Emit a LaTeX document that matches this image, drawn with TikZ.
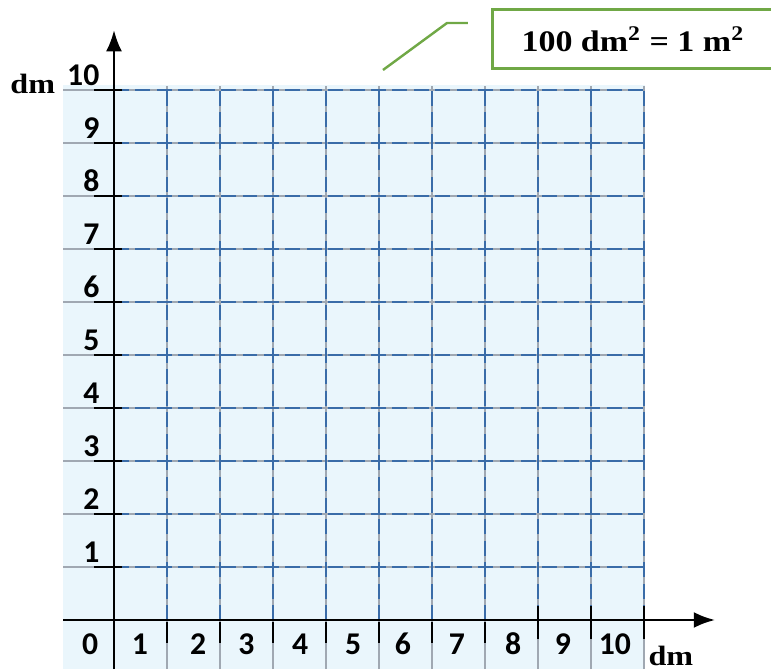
\documentclass[tikz,border=0pt]{standalone}
\usepackage{fontspec}
\setmainfont{Liberation Serif}
\newfontfamily\numfont{Carlito}
\usetikzlibrary{arrows.meta}
\definecolor{paperblue}{RGB}{234,246,252}
\definecolor{gridgray}{RGB}{160,168,178}
\definecolor{dashblue}{RGB}{58,108,168}
\definecolor{calloutgreen}{RGB}{112,168,70}
\tikzset{
	num/.style={font=\numfont\bfseries\fontsize{17}{20}\selectfont, inner sep=0pt},
	unitlabel/.style={font=\bfseries\fontsize{15}{18}\selectfont, inner sep=0pt},
	axis/.style={line width=1.3pt, -{Latex[length=0.4cm,width=0.3cm]}},
	gridline/.style={gridgray, line width=0.8pt},
	dashline/.style={dashblue, line width=1.5pt, dash pattern=on 8pt off 3.5pt},
	tickmark/.style={line width=1.1pt},
	callout/.style={draw=calloutgreen, line width=1.6pt, fill=white, minimum width=5.28cm, minimum height=1.1cm, font=\bfseries\fontsize{16}{19}\selectfont}
}

\begin{document}
\begin{tikzpicture}
	%%%%% START %%%%%
	\useasboundingbox (-2.151,-0.925) rectangle (12.396,11.698);
	
	% squared paper
	\fill[paperblue] (-0.96,-0.925) rectangle (10.02,10.1);
	\foreach \k in {1,...,10} {
		\draw[gridline] (-0.96,\k) -- (10,\k);
		\draw[gridline] (\k,-0.925) -- (\k,10.08);
	}
	\foreach \k in {1,...,10} {
		\draw[dashline] (0,\k) -- (10,\k);
		\draw[dashline] (\k,0) -- (\k,10);
	}
	
	% axes
	\coordinate (xstart) at (-0.96,0);
	\coordinate (xend) at (11.34,0);
	\coordinate (ystart) at (0,-0.925);
	\coordinate (yend) at (0,11.13);
	\draw[axis] (xstart) -- (xend);
	\draw[axis] (ystart) -- (yend);
	
	\foreach \k in {1,...,10}
		\draw[tickmark] (-0.38,\k) -- (0.15,\k);
	\foreach \k in {1,...,7}
		\draw[tickmark] (\k,-0.04) -- (\k,-0.43);
	\foreach \k in {8,9,10}
		\draw[tickmark] (\k,0.26) -- (\k,-0.36);
	
	% numbers
	\foreach \k in {1,...,10}
		\node[num, anchor=base east] (ylab\k) at (-0.27,\k+0.08) {\k};
	\foreach \k/\px in {0/-0.45,1/0.49,2/1.59,3/2.5,4/3.51,5/4.51,6/5.45,7/6.47,8/7.53,9/8.47,10/9.45}
		\node[num, anchor=base] (xlab\k) at (\px,-0.66) {\k};
	
	\node[unitlabel, anchor=base west] (yunit) at (-1.96,9.94) {\scalebox{1.15}[1]{dm}};
	\node[unitlabel, anchor=base west] (xunit) at (10.08,-0.86) {\scalebox{1.15}[1]{dm}};
	
	% callout
	\node[callout] (area) at (9.79,10.96) {\scalebox{1.14}[1]{100 dm\textsuperscript{2} = 1 m\textsuperscript{2}}};
	\coordinate (leadfoot) at (5.075,10.377);
	\coordinate (leadbend) at (6.283,11.264);
	\coordinate (leadend) at (6.679,11.264);
	\draw[calloutgreen, line width=1.3pt] (leadfoot) -- (leadbend) -- (leadend);
	
	%%%%% END %%%%%
\end{tikzpicture}
\end{document}
